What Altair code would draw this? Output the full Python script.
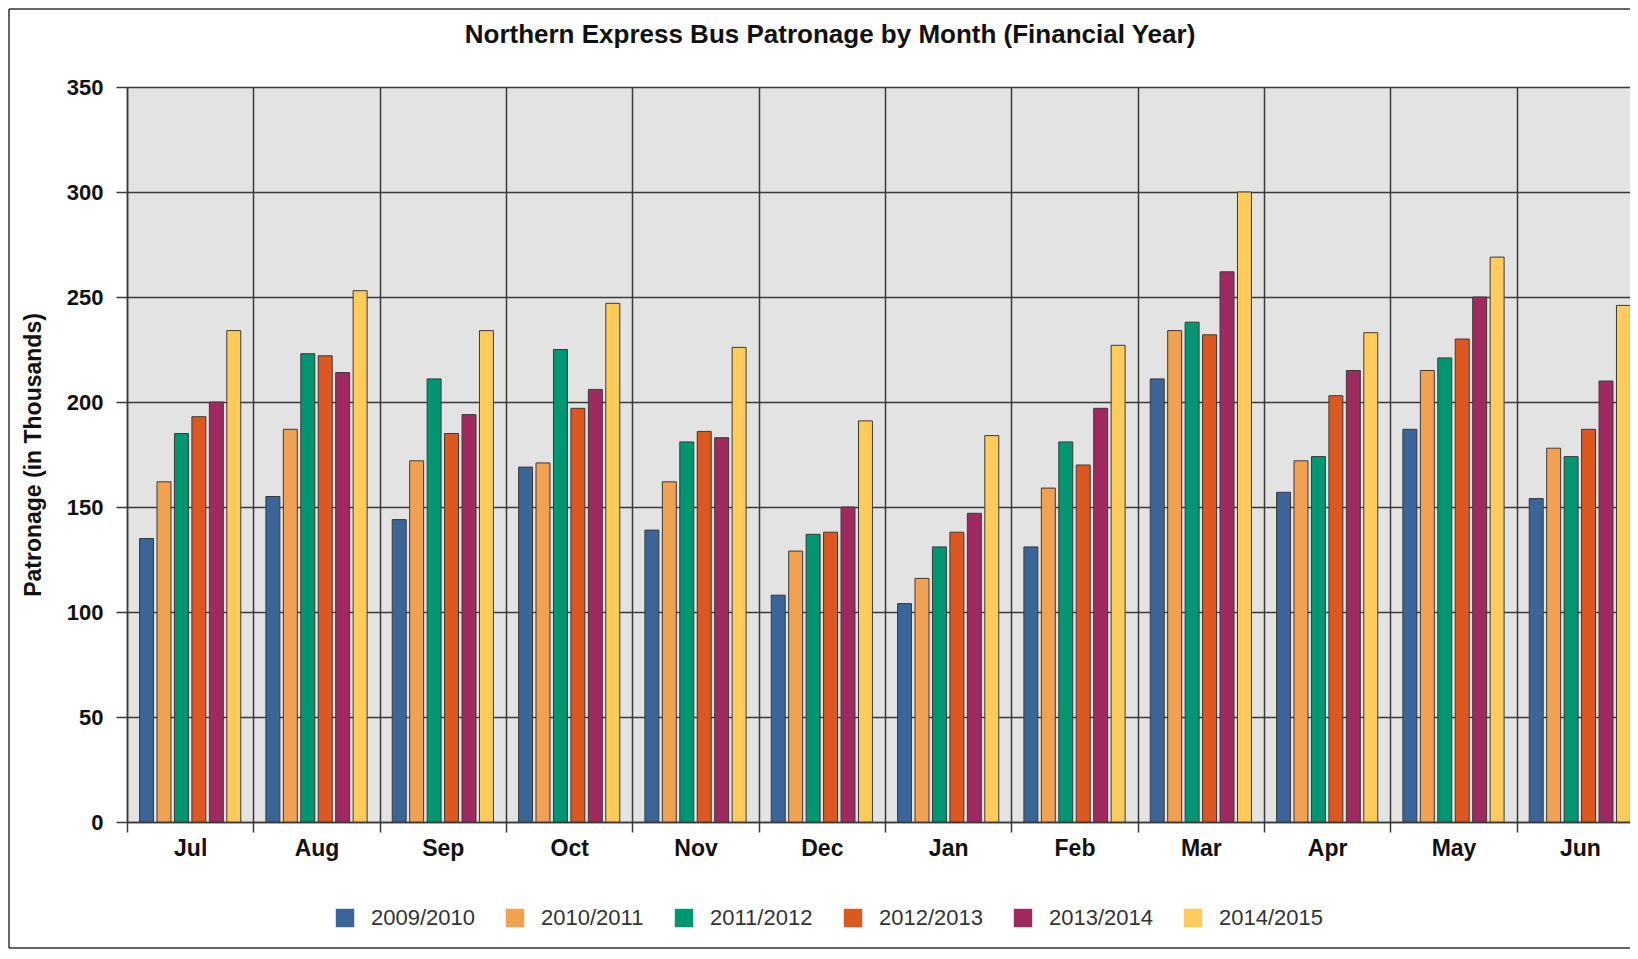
import altair as alt
import pandas as pd

FONT = "Liberation Sans"

months = ["Jul", "Aug", "Sep", "Oct", "Nov", "Dec", "Jan", "Feb", "Mar", "Apr", "May", "Jun"]
years = ["2009/2010", "2010/2011", "2011/2012", "2012/2013", "2013/2014", "2014/2015"]

fy_2009_10 = [135, 155, 144, 169, 139, 108, 104, 131, 211, 157, 187, 154]
fy_2010_11 = [162, 187, 172, 171, 162, 129, 116, 159, 234, 172, 215, 178]
fy_2011_12 = [185, 223, 211, 225, 181, 137, 131, 181, 238, 174, 221, 174]
fy_2012_13 = [193, 222, 185, 197, 186, 138, 138, 170, 232, 203, 230, 187]
fy_2013_14 = [200, 214, 194, 206, 183, 150, 147, 197, 262, 215, 250, 210]
fy_2014_15 = [234, 253, 234, 247, 226, 191, 184, 227, 300, 233, 269, 246]
series = [fy_2009_10, fy_2010_11, fy_2011_12, fy_2012_13, fy_2013_14, fy_2014_15]

colors = ["#3B6498", "#F0A152", "#009672", "#DD5720", "#A02960", "#FFCC5C"]
y_ticks = [0, 50, 100, 150, 200, 250, 300, 350]
title_text = "Northern Express Bus Patronage by Month (Financial Year)"
y_title = "Patronage (in Thousands)"

rows = []
for yr, vals in zip(years, series):
    for m, v in zip(months, vals):
        rows.append({"Month": m, "Year": yr, "Patronage": v})
df = pd.DataFrame(rows)

PLOT_W, PLOT_H = 1516, 735
PAD_L, PAD_T = 119, 79
SVG_W, SVG_H = 1622, 942
PAD_R = SVG_W - PAD_L - PLOT_W
PAD_B = SVG_H - PAD_T - PLOT_H

DARK = "#3a3a3a"

bars = alt.Chart(df).mark_bar(stroke=DARK, strokeWidth=1).encode(
    x=alt.X(
        "Month:N", sort=months,
        scale=alt.Scale(paddingInner=0, paddingOuter=0),
        axis=alt.Axis(
            title=None, tickBand="extent", labelAngle=0,
            labelFont=FONT, labelFontSize=23, labelFontWeight="bold", labelColor="#111",
            labelPadding=5, tickSize=10, tickColor=DARK, tickWidth=1.5,
            domainColor=DARK, domainWidth=1.5,
            grid=True, gridColor=DARK, gridWidth=1.5,
        ),
    ),
    xOffset=alt.XOffset("Year:N", sort=years,
                        scale=alt.Scale(paddingInner=0.2, paddingOuter=0.72)),
    y=alt.Y(
        "Patronage:Q",
        scale=alt.Scale(domain=[0, 350], nice=False),
        axis=alt.Axis(
            values=y_ticks, title=y_title,
            labelFont=FONT, labelFontSize=22, labelFontWeight="bold", labelColor="#111",
            labelPadding=13, tickSize=11, tickColor=DARK, tickWidth=1.5,
            domainColor=DARK, domainWidth=1.5,
            grid=True, gridColor=DARK, gridWidth=1.5,
            titleFont=FONT, titleFontSize=23, titleFontWeight="bold", titleColor="#111",
            titleAngle=270, titleAlign="center", titleBaseline="middle",
            titleX=-94, titleY=PLOT_H / 2,
        ),
    ),
    color=alt.Color(
        "Year:N", sort=years,
        scale=alt.Scale(domain=years, range=colors),
        legend=alt.Legend(
            title=None, orient="none", direction="horizontal",
            legendX=207, legendY=820,
            symbolType="square", symbolSize=340, symbolStrokeWidth=0,
            labelFont=FONT, labelFontSize=22, labelColor="#333",
            labelOffset=15, columnPadding=29, padding=0,
        ),
    ),
)

one = pd.DataFrame({"k": [0]})

title_mark = alt.Chart(one).mark_text(
    text=title_text, font=FONT, fontSize=26, fontWeight="bold",
    align="center", baseline="middle", color="#111",
).encode(x=alt.value(703), y=alt.value(-52))

frame_style = dict(color="#333", strokeWidth=1.5)
frame_left = alt.Chart(one).mark_rule(**frame_style).encode(
    x=alt.value(-PAD_L + 1), y=alt.value(-PAD_T + 1), y2=alt.value(SVG_H - PAD_T - 2))
frame_top = alt.Chart(one).mark_rule(**frame_style).encode(
    x=alt.value(-PAD_L + 1), x2=alt.value(PLOT_W + PAD_R), y=alt.value(-PAD_T + 1))
frame_bottom = alt.Chart(one).mark_rule(**frame_style).encode(
    x=alt.value(-PAD_L + 1), x2=alt.value(PLOT_W + PAD_R), y=alt.value(SVG_H - PAD_T - 2))

chart = alt.layer(bars, title_mark, frame_left, frame_top, frame_bottom).properties(
    width=PLOT_W, height=PLOT_H,
    padding={"left": PAD_L, "top": PAD_T, "right": PAD_R, "bottom": PAD_B},
    autosize=alt.AutoSizeParams(type="none"),
    background="white",
).configure_view(fill="#E3E3E3", stroke="transparent")

chart.save("out.html", embed_options={"renderer": "svg", "actions": False})
